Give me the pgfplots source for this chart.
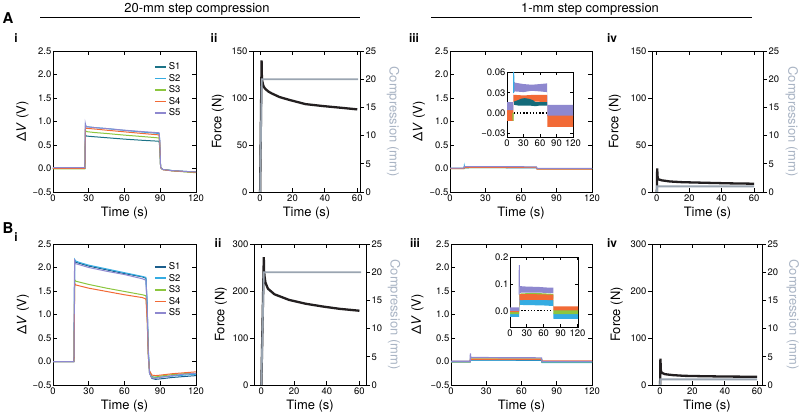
\documentclass[border=0pt]{standalone}
\usepackage{fontspec}
\setmainfont{TeX Gyre Heros}
\usepackage{pgfplots}
\pgfplotsset{compat=1.18}
\definecolor{colSa}{HTML}{1C7387}
\definecolor{colSb}{HTML}{1B5E8C}
\definecolor{colSt}{HTML}{146B7A}
\definecolor{colStwo}{HTML}{35ACE2}
\definecolor{colSthree}{HTML}{8CC63F}
\definecolor{colSfour}{HTML}{F26A36}
\definecolor{colSfive}{HTML}{8E88CF}
\definecolor{colF}{HTML}{231F20}
\definecolor{colC}{HTML}{9AA5B1}
\definecolor{colCL}{HTML}{A9B4C4}
\newcommand\tickfont{\fontsize{9.5}{11}\selectfont}
\newcommand\labfont{\fontsize{13}{15}\selectfont}
\newcommand\panfont{\fontsize{15}{17}\selectfont\bfseries}
\newcommand\subfont{\fontsize{12}{14}\selectfont\bfseries}
\pgfplotsset{
 base/.style={scale only axis, anchor=south west, scaled ticks=false, axis line style={line width=0.8bp}, tick style={black, line width=0.8bp}, major tick length=4bp, tick label style={font=\tickfont}, label style={font=\labfont}, xticklabel style={inner sep=2.5bp}, yticklabel style={inner sep=1.5bp}, /pgf/number format/assume math mode=true},
 vstyle/.style={base, xmin=0, xmax=120, ymin=-0.5, ymax=2.5, xtick={0,30,60,90,120}, ytick={-0.5,0,0.5,1,1.5,2,2.5}, yticklabels={−0.5,0.0,0.5,1.0,1.5,2.0,2.5}, xlabel={Time (s)}, ylabel={Δ\textit{V} (V)}, xlabel style={at={(axis description cs:0.5,-0.152)}, anchor=center}},
 fstyle/.style={base, xtick={0,20,40,60}, ytick pos=left, ytick align=outside, xlabel={Time (s)}, ylabel={Force (N)}, xlabel style={at={(axis description cs:0.5,-0.152)}, anchor=center}},
 cstyle/.style={base, axis x line=none, axis y line*=right, ymin=0, ymax=25, ytick={0,5,10,15,20,25}, ytick align=outside, ylabel={Compression (mm)}},
 istyle/.style={base, major tick length=3bp, axis background/.style={fill=white}, xtick={0,30,60,90,120}},
 leg/.style={legend style={draw=none, fill=none, at={(axis description cs:0.705,#1)}, anchor=north west, font=\tickfont, row sep=-1bp, inner sep=0pt}, legend cell align=left, legend image code/.code={\draw[##1, line width=1.8bp, solid] (0bp,0bp) -- (11bp,0bp);}, legend entries={S1,S2,S3,S4,S5}},
 sline/.style={line width=1bp},
 fline/.style={colF, line width=2.3bp},
 cline/.style={colC, line width=1.8bp},
}
\begin{document}
\begin{tikzpicture}
\useasboundingbox (0bp,0bp) rectangle (800bp,418bp);
% headers
\node[font=\labfont] at (197bp,409bp) {20-mm step compression};
\draw[line width=0.9bp] (40bp,401bp) -- (360bp,401bp);
\node[font=\labfont] at (590bp,409bp) {1-mm step compression};
\draw[line width=0.9bp] (431bp,401bp) -- (752bp,401bp);
\node[font=\panfont] at (8bp,400bp) {A};
\node[font=\panfont] at (8bp,190bp) {B};
\node[font=\subfont] at (16bp,380bp) {i};
\node[font=\subfont] at (214bp,380bp) {ii};
\node[font=\subfont] at (414bp,380bp) {iii};
\node[font=\subfont] at (612bp,380bp) {iv};
\node[font=\subfont] at (16bp,181bp) {i};
\node[font=\subfont] at (218bp,175bp) {ii};
\node[font=\subfont] at (415bp,175bp) {iii};
\node[font=\subfont] at (612bp,175bp) {iv};

% ---------- A-i ----------
\begin{axis}[vstyle, leg=0.933, at={(53bp,226bp)}, width=143bp, height=141bp,
  ylabel style={at={(axis description cs:-0.213,0.5)}, anchor=center}]
\addplot[colSa, sline] coordinates {(0,0.0)(26.8,0.0)(27.2,0.72)(28,0.69)(35,0.675)(45,0.655)(60,0.625)(75,0.60)(89,0.58)(89.6,0.45)(90.3,0.02)(92,-0.02)(100,-0.045)(110,-0.06)(120,-0.075)};
\addplot[colStwo, sline] coordinates {(0,0.005)(26.8,0.005)(27.2,0.93)(28,0.89)(35,0.87)(45,0.85)(60,0.81)(75,0.775)(89,0.745)(89.6,0.6)(90.3,0.03)(92,-0.02)(100,-0.045)(110,-0.065)(120,-0.08)};
\addplot[colSthree, sline] coordinates {(0,-0.01)(26.8,-0.01)(27.2,0.81)(28,0.785)(35,0.765)(45,0.745)(60,0.71)(75,0.68)(89,0.65)(89.6,0.5)(90.3,0.02)(92,-0.02)(100,-0.05)(110,-0.07)(120,-0.09)};
\addplot[colSfour, sline] coordinates {(0,0.0)(26.8,0.0)(27.2,0.88)(28,0.855)(35,0.84)(45,0.815)(60,0.78)(75,0.745)(89,0.715)(89.6,0.55)(90.3,0.02)(92,-0.025)(100,-0.05)(110,-0.065)(120,-0.08)};
\addplot[colSfive, sline] coordinates {(0,0.02)(26.8,0.02)(27.1,0.96)(27.6,0.90)(28,0.89)(35,0.87)(45,0.85)(60,0.815)(75,0.785)(89,0.76)(89.6,0.6)(90.3,0.03)(92,-0.02)(100,-0.045)(110,-0.06)(120,-0.075)};
\end{axis}

% ---------- A-ii ----------
\begin{axis}[fstyle, at={(253bp,226bp)}, width=107bp, height=141bp, xmin=-4.4, xmax=61.7, ymin=0, ymax=150, ytick={0,50,100,150},
  ylabel style={at={(axis description cs:-0.327,0.5)}, anchor=center}]
\addplot[fline] coordinates {(0,0)(0.9,140)(1.05,125)(1.3,118)(2,113)(3,110)(5,107)(7,105)(12,101)(18,98)(28,93.5)(39,91.4)(50,89.6)(60,87.9)};
\end{axis}
\begin{axis}[cstyle, at={(253bp,226bp)}, width=107bp, height=141bp, xmin=-4.4, xmax=61.7,
  ylabel style={color=colCL, at={(axis description cs:1.308,0.5)}, anchor=center, rotate=180}]
\addplot[cline] coordinates {(0,0)(1,20)(60.5,20)};
\end{axis}

% ---------- A-iii ----------
\begin{axis}[vstyle, at={(450bp,226bp)}, width=142bp, height=141bp,
  ylabel style={at={(axis description cs:-0.218,0.5)}, anchor=center}]
\addplot[colSa, sline] coordinates {(0,0.0)(11.8,0.0)(12,0.015)(25,0.018)(35,0.02)(50,0.015)(73,0.015)(73.5,-0.005)(120,-0.005)};
\addplot[colStwo, sline] coordinates {(0,0.0)(11.8,0.0)(12.1,0.06)(12.4,0.025)(73,0.025)(73.5,-0.005)(120,-0.005)};
\addplot[colSthree, sline] coordinates {(0,-0.005)(11.8,-0.005)(12,0.02)(73,0.022)(73.5,-0.008)(120,-0.008)};
\addplot[colSfour, sline] coordinates {(0,-0.004)(11.8,-0.004)(12,0.022)(73,0.022)(73.5,-0.012)(120,-0.012)};
\addplot[colSfive, sline] coordinates {(0,0.01)(11.8,0.01)(12,0.038)(73,0.037)(73.5,0.004)(120,0.004)};
\end{axis}
\begin{axis}[istyle, at={(507bp,281bp)}, width=66bp, height=65bp, xmin=0, xmax=120, ymin=-0.036, ymax=0.061, ytick={-0.03,0,0.03,0.06}, yticklabels={−0.03,0.00,0.03,0.06}]
\addplot[fill=colSfour, draw=none] coordinates {(0,0.004)(11.5,0.004)(11.6,0.027)(30,0.026)(50,0.027)(73,0.027)(73.3,-0.003)(120,-0.003)(120,-0.021)(73.3,-0.021)(73,0.016)(50,0.017)(30,0.016)(11.6,0.016)(11.5,-0.012)(0,-0.012)};
\addplot[fill=colSt, draw=none] coordinates {(13,0.017)(20,0.019)(25,0.021)(32,0.022)(40,0.021)(47,0.019)(52,0.016)(60,0.016)(73,0.016)(73,0.011)(60,0.011)(52,0.010)(40,0.011)(30,0.011)(20,0.011)(13,0.012)};
\addplot[fill=colSfive, draw=none] coordinates {(0,0.016)(11.5,0.016)(11.6,0.047)(15,0.045)(30,0.043)(45,0.042)(60,0.043)(73,0.044)(73.3,0.012)(120,0.012)(120,-0.004)(73.3,-0.004)(73,0.031)(60,0.032)(45,0.033)(30,0.031)(15,0.032)(11.6,0.031)(11.5,0.004)(0,0.004)};
\addplot[colStwo, line width=1bp] coordinates {(12,0.03)(12.2,0.061)(12.5,0.035)};
\addplot[colSthree, line width=1bp] coordinates {(10.5,0.0)(11,-0.012)(11.4,0.0)};
\addplot[black, line width=1.3bp, dash pattern=on 1.4bp off 1.8bp] coordinates {(12,0)(73,0)};
\end{axis}

% ---------- A-iv ----------
\begin{axis}[fstyle, at={(652bp,226bp)}, width=111bp, height=141bp, xmin=-3, xmax=65.5, ymin=0, ymax=150, ytick={0,50,100,150},
  ylabel style={at={(axis description cs:-0.333,0.5)}, anchor=center}]
\addplot[fline] coordinates {(0,0)(0.2,25)(0.5,15)(1,13.5)(3,12.4)(8,11.2)(15,10.5)(21,10.2)(30,9.8)(45,9.2)(60,8.8)};
\end{axis}
\begin{axis}[cstyle, at={(652bp,226bp)}, width=111bp, height=141bp, xmin=-3, xmax=65.5,
  ylabel style={color=colCL, at={(axis description cs:1.26,0.5)}, anchor=center, rotate=180}]
\addplot[cline] coordinates {(0,0)(0.15,1)(60,1)};
\end{axis}

% ---------- B-i ----------
\begin{axis}[vstyle, leg=0.884, at={(53bp,33bp)}, width=143bp, height=141bp,
  ylabel style={at={(axis description cs:-0.21,0.5)}, anchor=center}]
\addplot[colSb, sline] coordinates {(0,0)(17.6,0)(18.2,2.14)(19,2.11)(22,2.09)(30,2.03)(45,1.95)(60,1.87)(75,1.80)(78,1.77)(79,1.2)(80,0.2)(81,-0.25)(83,-0.36)(86,-0.38)(90,-0.37)(100,-0.34)(110,-0.32)(120,-0.30)};
\addplot[colStwo, sline] coordinates {(0,0)(17.6,0)(18.2,2.17)(19,2.14)(22,2.11)(30,2.05)(45,1.97)(60,1.89)(75,1.81)(78,1.79)(79,1.25)(80,0.25)(81,-0.2)(83,-0.32)(86,-0.34)(90,-0.33)(100,-0.31)(110,-0.29)(120,-0.27)};
\addplot[colSthree, sline] coordinates {(0,0)(17.6,0)(18.2,1.74)(19,1.71)(22,1.69)(30,1.64)(45,1.56)(60,1.49)(75,1.42)(78,1.40)(79,0.95)(80,0.1)(81,-0.22)(83,-0.33)(86,-0.33)(90,-0.31)(100,-0.28)(110,-0.26)(120,-0.25)};
\addplot[colSfour, sline] coordinates {(0,0)(17.6,0)(18.2,1.66)(19,1.63)(22,1.61)(30,1.56)(45,1.49)(60,1.42)(75,1.36)(78,1.33)(79,0.9)(80,0.1)(81,-0.2)(83,-0.29)(86,-0.30)(90,-0.29)(100,-0.26)(110,-0.24)(120,-0.22)};
\addplot[colSfive, sline] coordinates {(0,0)(17.6,0)(18.1,2.18)(18.5,2.10)(19,2.08)(22,2.06)(30,2.00)(45,1.92)(60,1.85)(75,1.76)(78,1.73)(79,1.15)(80,0.15)(81,-0.25)(83,-0.35)(86,-0.36)(90,-0.34)(100,-0.30)(110,-0.27)(120,-0.25)};
\end{axis}

% ---------- B-ii ----------
\begin{axis}[fstyle, at={(254bp,33bp)}, width=112bp, height=141bp, xmin=-4.5, xmax=64, ymin=0, ymax=300, ytick={0,100,200,300},
  ylabel style={at={(axis description cs:-0.295,0.5)}, anchor=center}]
\addplot[fline] coordinates {(0,0)(1.5,272)(1.6,245)(2,230)(2.5,218)(4,205)(8,193)(17,181)(27,173)(37.5,167)(48,162)(60,158)};
\end{axis}
\begin{axis}[cstyle, at={(254bp,33bp)}, width=112bp, height=141bp, xmin=-4.5, xmax=64,
  ylabel style={color=colCL, at={(axis description cs:1.25,0.5)}, anchor=center, rotate=180}]
\addplot[cline] coordinates {(0,0)(1.5,20)(61,20)};
\end{axis}

% ---------- B-iii ----------
\begin{axis}[vstyle, at={(451bp,33bp)}, width=141bp, height=141bp,
  ylabel style={at={(axis description cs:-0.238,0.5)}, anchor=center}]
\addplot[colSb, line width=1.2bp] coordinates {(0,0)(16.3,0)(16.6,0.03)(77,0.028)(77.5,-0.015)(120,-0.015)};
\addplot[colStwo, line width=1.2bp] coordinates {(0,-0.01)(16.3,-0.01)(16.6,0.033)(77,0.03)(77.5,-0.02)(120,-0.02)};
\addplot[colSthree, line width=1.2bp] coordinates {(0,-0.005)(16.3,-0.005)(16.6,0.055)(77,0.055)(77.5,-0.005)(120,-0.005)};
\addplot[colSfour, line width=1.2bp] coordinates {(0,0.0)(16.3,0)(16.6,0.05)(77,0.05)(77.5,0.01)(120,0.01)};
\addplot[colSfive, line width=1.2bp] coordinates {(0,0.005)(16.3,0.005)(16.5,0.17)(16.8,0.085)(77,0.077)(77.5,0.0)(120,0.0)};
\end{axis}
\begin{axis}[istyle, at={(510bp,91bp)}, width=68bp, height=70bp, xmin=0, xmax=121, ymin=-0.06, ymax=0.2, ytick={0,0.1,0.2}, yticklabels={0.0,0.1,0.2}]
\addplot[fill=colStwo, draw=none] coordinates {(0,-0.008)(16.3,-0.008)(16.6,0.045)(40,0.044)(60,0.042)(77,0.040)(77.4,-0.010)(121,-0.010)(121,-0.030)(77.4,-0.030)(77,0.018)(60,0.020)(40,0.021)(16.6,0.022)(16.3,-0.022)(0,-0.022)};
\addplot[fill=colSthree, draw=none] coordinates {(0,-0.002)(16.3,-0.002)(16.6,0.064)(40,0.067)(60,0.065)(77,0.063)(77.4,0.004)(121,0.004)(121,-0.012)(77.4,-0.012)(77,0.045)(40,0.046)(16.6,0.045)(16.3,-0.012)(0,-0.012)};
\addplot[fill=colSfour, draw=none] coordinates {(0,0.008)(16.3,0.008)(16.6,0.062)(40,0.062)(60,0.061)(77,0.060)(77.4,0.017)(121,0.017)(121,0.002)(77.4,0.002)(77,0.040)(40,0.041)(16.6,0.040)(16.3,-0.005)(0,-0.005)};
\addplot[fill=colSfive, draw=none] coordinates {(0,0.013)(16.3,0.013)(16.6,0.092)(30,0.090)(50,0.089)(70,0.086)(77,0.086)(77.3,0.066)(70,0.066)(50,0.068)(30,0.068)(16.6,0.067)(16.3,0.0)(0,0.0)};
\addplot[colSfive, line width=1bp] coordinates {(16.2,0.06)(16.5,0.17)(16.9,0.09)};
\addplot[black, line width=1.3bp, dash pattern=on 1.4bp off 1.8bp] coordinates {(20,0)(75,0)};
\end{axis}

% ---------- B-iv ----------
\begin{axis}[fstyle, at={(652bp,33bp)}, width=110bp, height=141bp, xmin=-5, xmax=63, ymin=0, ymax=300, ytick={0,100,200,300},
  ylabel style={at={(axis description cs:-0.32,0.5)}, anchor=center}]
\addplot[fline] coordinates {(0,0)(0.2,56)(0.5,30)(1,26)(3,23)(8,21)(15,19.5)(25,18.8)(40,18)(60,17.5)};
\end{axis}
\begin{axis}[cstyle, at={(652bp,33bp)}, width=110bp, height=141bp, xmin=-5, xmax=63,
  ylabel style={color=colCL, at={(axis description cs:1.28,0.5)}, anchor=center, rotate=180}]
\addplot[cline] coordinates {(0,0)(0.15,1)(60,1)};
\end{axis}
\end{tikzpicture}
\end{document}
